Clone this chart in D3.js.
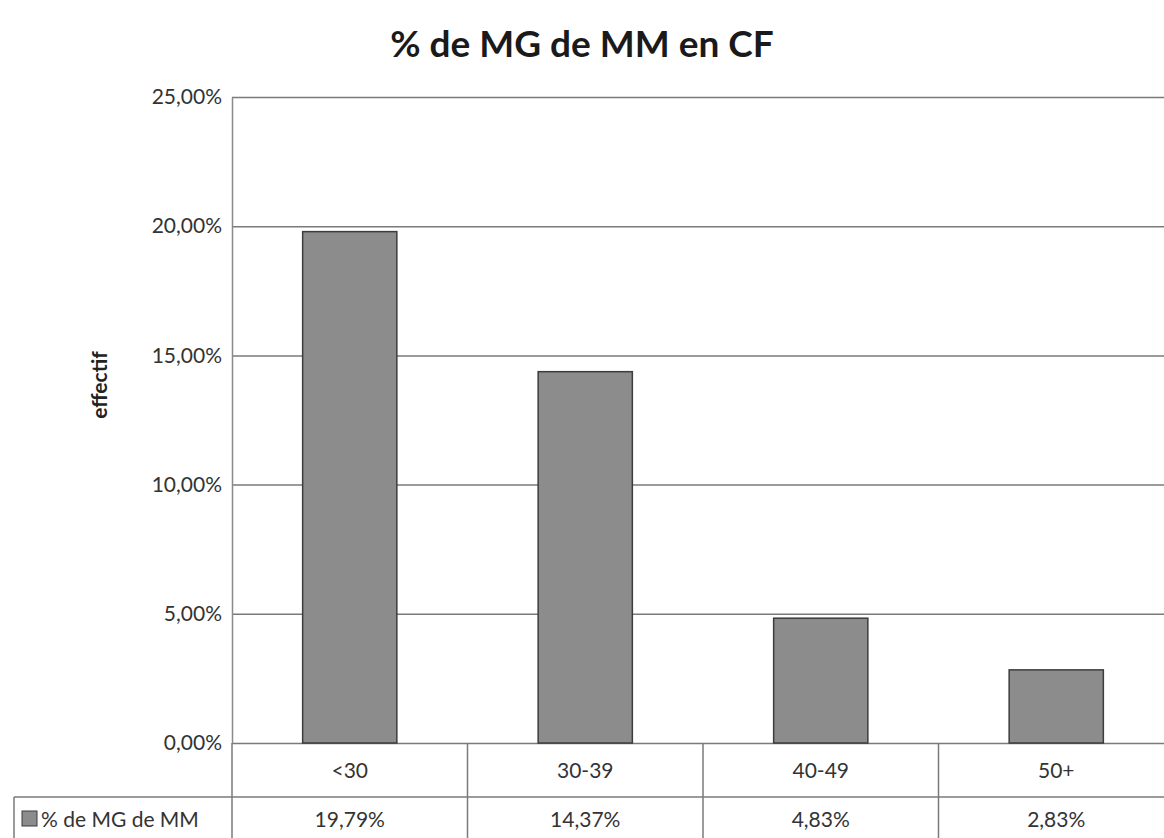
<!DOCTYPE html>
<html><head><meta charset="utf-8">
<script src="https://cdn.jsdelivr.net/npm/d3@7"></script>
<style>body{margin:0;background:#fff}svg{display:block}</style>
</head><body>
<script>
const categories = ["<30", "30-39", "40-49", "50+"];
const values = [19.79, 14.37, 4.83, 2.83];
const valueLabels = ["19,79%", "14,37%", "4,83%", "2,83%"];
const yTicks = [0, 5, 10, 15, 20, 25];
const seriesName = "% de MG de MM";
const title = "% de MG de MM en CF";
const yTitle = "effectif";

(function () {
const W = 1164, H = 838;
const font = "Lato, 'Open Sans', sans-serif";
const fs = 21;
const svg = d3.select("body").append("svg").attr("width", W).attr("height", H);

const mLeft = 232, mRight = 1174, mTop = 97, mBottom = 743;
const x = d3.scaleBand().domain(categories).range([mLeft, mRight]).paddingInner(0).paddingOuter(0);
const y = d3.scaleLinear().domain([0, 25]).range([mBottom, mTop]);

// title
svg.append("text").attr("x", 582).attr("y", 57).attr("text-anchor", "middle")
  .attr("font-family", font).attr("font-weight", "bold").attr("font-size", 37)
  .attr("fill", "#1a1a1a").text(title);

// y title
svg.append("text").attr("transform", "translate(107,385) rotate(-90)")
  .attr("text-anchor", "middle").attr("font-family", font).attr("font-weight", "bold")
  .attr("font-size", fs).attr("fill", "#222").text(yTitle);

// gridlines
svg.append("g").selectAll("line").data(yTicks).join("line")
  .attr("x1", mLeft).attr("x2", W).attr("y1", d => y(d) + 0.5).attr("y2", d => y(d) + 0.5)
  .attr("stroke", "#7a7a7a").attr("stroke-width", 1.5);

// y axis
const yAxis = svg.append("g").attr("transform", `translate(${mLeft},0)`)
  .call(d3.axisLeft(y).tickValues(yTicks).tickSize(0).tickPadding(10)
    .tickFormat(d => d.toFixed(2).replace(".", ",") + "%"));
yAxis.select(".domain").attr("stroke", "#8a8a8a").attr("stroke-width", 1.5);
yAxis.selectAll("text").attr("font-family", font).attr("font-size", fs).attr("fill", "#333");

// bars
const bw = x.bandwidth() * 0.4;
svg.append("g").selectAll("rect").data(values).join("rect")
  .attr("x", (d, i) => x(categories[i]) + (x.bandwidth() - bw) / 2)
  .attr("width", bw)
  .attr("y", d => y(d)).attr("height", d => y(0) - y(d))
  .attr("fill", "#8c8c8c").attr("stroke", "#3c3c3c").attr("stroke-width", 1.5);

// data table
const rowSplit = 797;
const tbl = svg.append("g");
const lineColor = "#7a7a7a";
tbl.append("line").attr("x1", 14).attr("x2", W).attr("y1", rowSplit).attr("y2", rowSplit)
  .attr("stroke", lineColor).attr("stroke-width", 1.5);
tbl.append("line").attr("x1", 14).attr("x2", 14).attr("y1", rowSplit).attr("y2", H)
  .attr("stroke", lineColor).attr("stroke-width", 1.5);
tbl.selectAll("line.v").data(categories).join("line").attr("class", "v")
  .attr("x1", d => x(d)).attr("x2", d => x(d)).attr("y1", mBottom).attr("y2", H)
  .attr("stroke", lineColor).attr("stroke-width", 1.5);
tbl.selectAll("text.c").data(categories).join("text").attr("class", "c")
  .attr("x", d => x(d) + x.bandwidth() / 2).attr("y", 778).attr("text-anchor", "middle")
  .attr("font-family", font).attr("font-size", fs).attr("fill", "#333").text(d => d);
tbl.selectAll("text.v").data(valueLabels).join("text").attr("class", "v")
  .attr("x", (d, i) => x(categories[i]) + x.bandwidth() / 2).attr("y", 827).attr("text-anchor", "middle")
  .attr("font-family", font).attr("font-size", fs).attr("fill", "#333").text(d => d);
tbl.append("rect").attr("x", 22).attr("y", 811).attr("width", 15).attr("height", 15)
  .attr("fill", "#8c8c8c").attr("stroke", "#3c3c3c").attr("stroke-width", 1);
tbl.append("text").attr("x", 41).attr("y", 827).attr("font-family", font).attr("font-size", fs)
  .attr("fill", "#333").text(seriesName);
})();
</script>
</body></html>
